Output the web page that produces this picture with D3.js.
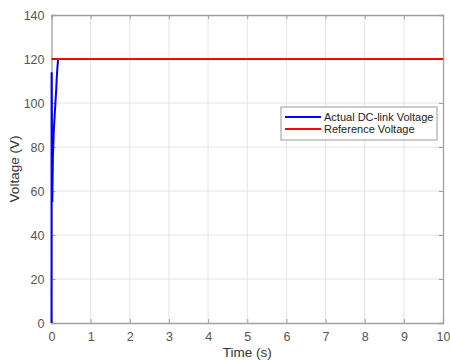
<!DOCTYPE html>
<html>
<head>
<meta charset="utf-8">
<script src="https://cdn.jsdelivr.net/npm/d3@7"></script>
<style>
  body { margin: 0; background: #fff; }
  svg { display: block; font-family: Arial, "Liberation Sans", sans-serif; }
</style>
</head>
<body>
<svg id="chart" width="450" height="362"></svg>
<script>
const width = 450, height = 362;
const margin = { top: 15, right: 7, bottom: 39, left: 51.5 };

// time (s) and voltage readings
const actualTime = [0, 0.002, 0.004, 0.02, 0.035, 0.06, 0.12, 0.13, 0.15, 0.17, 0.5, 1, 2, 3, 4, 5, 6, 7, 8, 9, 10];
const actualVolt = [0, 113, 114, 55, 75, 88, 106, 110, 116, 120, 120, 120, 120, 120, 120, 120, 120, 120, 120, 120, 120];
const refTime = [0, 10];
const refVolt = [120, 120];
const xTicks = [0, 1, 2, 3, 4, 5, 6, 7, 8, 9, 10];
const yTicks = [0, 20, 40, 60, 80, 100, 120, 140];
const legendLabels = ['Actual DC-link Voltage', 'Reference Voltage'];
const colors = ['#0000ff', '#ff0000'];

const svg = d3.select('#chart');
const iw = width - margin.left - margin.right;
const ih = height - margin.top - margin.bottom;

const x = d3.scaleLinear().domain([0, 10]).range([margin.left, margin.left + iw]);
const y = d3.scaleLinear().domain([0, 140]).range([margin.top + ih, margin.top]);

// Grid
svg.append('g').selectAll('line').data(xTicks.slice(1, -1)).enter().append('line')
  .attr('x1', d => x(d)).attr('x2', d => x(d))
  .attr('y1', y(0)).attr('y2', y(140))
  .attr('stroke', '#e4e4e4').attr('stroke-width', 1);
svg.append('g').selectAll('line').data(yTicks.slice(1, -1)).enter().append('line')
  .attr('y1', d => y(d)).attr('y2', d => y(d))
  .attr('x1', x(0)).attr('x2', x(10))
  .attr('stroke', '#e4e4e4').attr('stroke-width', 1);

// Axes
const axisColor = '#a0a0a0';
const textColor = '#555';
const axBottom = svg.append('g').attr('transform', `translate(0,${y(0)})`)
  .call(d3.axisBottom(x).tickValues(xTicks).tickSize(-4).tickPadding(9));
const axLeft = svg.append('g').attr('transform', `translate(${x(0)},0)`)
  .call(d3.axisLeft(y).tickValues(yTicks).tickSize(-4).tickPadding(7));
const axTop = svg.append('g').attr('transform', `translate(0,${y(140)})`)
  .call(d3.axisTop(x).tickValues(xTicks).tickSize(-4).tickFormat(''));
const axRight = svg.append('g').attr('transform', `translate(${x(10)},0)`)
  .call(d3.axisRight(y).tickValues(yTicks).tickSize(-4).tickFormat(''));

[axBottom, axLeft, axTop, axRight].forEach(g => {
  g.select('.domain').attr('stroke', axisColor).attr('stroke-width', 1.3);
  g.selectAll('.tick line').attr('stroke', axisColor);
  g.selectAll('.tick text').attr('fill', textColor).attr('font-size', 12.5)
    .attr('font-family', 'Arial, "Liberation Sans", sans-serif');
});

// Series
const line = d3.line().x(d => x(d[0])).y(d => y(d[1]));
svg.append('path')
  .datum(d3.zip(actualTime, actualVolt))
  .attr('fill', 'none').attr('stroke', colors[0]).attr('stroke-width', 2)
  .attr('d', line);
svg.append('path')
  .datum(d3.zip(refTime, refVolt))
  .attr('fill', 'none').attr('stroke', colors[1]).attr('stroke-width', 1.8)
  .attr('d', line);

// Axis labels
svg.append('text')
  .attr('x', x(5)).attr('y', 357)
  .attr('text-anchor', 'middle').attr('font-size', 13.5).attr('fill', '#333')
  .text('Time (s)');
svg.append('text')
  .attr('transform', `translate(19,${y(70)}) rotate(-90)`)
  .attr('text-anchor', 'middle').attr('font-size', 13.5).attr('fill', '#333')
  .text('Voltage (V)');

// Legend
const legend = svg.append('g').attr('transform', 'translate(281,107)');
legend.append('rect')
  .attr('width', 156).attr('height', 33)
  .attr('fill', '#fff').attr('stroke', '#999').attr('stroke-width', 1);
legendLabels.forEach((lab, i) => {
  const ly = 10 + i * 12;
  legend.append('line')
    .attr('x1', 4).attr('x2', 40).attr('y1', ly).attr('y2', ly)
    .attr('stroke', colors[i]).attr('stroke-width', 2);
  legend.append('text')
    .attr('x', 43).attr('y', ly + 4)
    .attr('font-size', 11).attr('fill', '#222')
    .text(lab);
});
</script>
</body>
</html>
